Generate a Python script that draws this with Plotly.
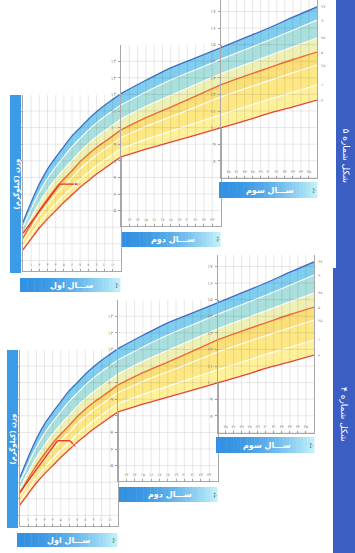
import plotly.graph_objects as go

W, H = 355, 553
FONT = "DejaVu Sans"

# ---------------- data (weight in kg by age in months) ----------------
months = [0, 1, 2, 3, 4, 5, 6, 7, 8, 9, 10, 11, 12, 15, 18, 21, 24, 27, 30, 33, 36]
p97 = [4.30, 5.50, 6.60, 7.50, 8.20, 8.85, 9.50, 10.00, 10.50, 10.95, 11.35, 11.70, 12.05, 12.85, 13.60, 14.20, 14.80, 15.40, 16.00, 16.65, 17.27]
p90 = [4.01, 5.10, 6.10, 6.94, 7.63, 8.25, 8.85, 9.36, 9.85, 10.28, 10.67, 11.02, 11.37, 12.15, 12.87, 13.49, 14.11, 14.69, 15.26, 15.86, 16.48]
p75 = [3.64, 4.59, 5.48, 6.24, 6.91, 7.49, 8.03, 8.57, 9.03, 9.45, 9.81, 10.16, 10.52, 11.28, 11.95, 12.59, 13.24, 13.79, 14.32, 14.87, 15.40]
p50 = [3.35, 4.20, 5.00, 5.70, 6.35, 6.90, 7.40, 7.95, 8.40, 8.80, 9.15, 9.50, 9.86, 10.60, 11.24, 11.90, 12.57, 13.10, 13.60, 14.10, 14.55]
p25 = [3.15, 3.95, 4.71, 5.36, 5.97, 6.51, 6.99, 7.52, 7.95, 8.35, 8.70, 9.05, 9.40, 10.07, 10.65, 11.24, 11.84, 12.34, 12.83, 13.30, 13.77]
p10 = [2.85, 3.58, 4.28, 4.87, 5.42, 5.93, 6.40, 6.88, 7.30, 7.70, 8.05, 8.40, 8.74, 9.29, 9.78, 10.28, 10.78, 11.24, 11.70, 12.13, 12.57]
p3 = [2.63, 3.30, 3.95, 4.50, 5.00, 5.50, 5.95, 6.40, 6.80, 7.20, 7.55, 7.90, 8.23, 8.70, 9.13, 9.55, 9.98, 10.40, 10.85, 11.25, 11.66]
percentile_names = ["۳", "۱۰", "۲۵", "۵۰", "۷۵", "۹۰", "۹۷"]

child5_months = [0, 4.5, 7]
child5_weight = [3.65, 6.6, 6.6]
child4_months = [0, 4.6, 6.1, 7.0]
child4_weight = [3.4, 6.5, 6.5, 6.05]

year_labels = ["ســـال اول", "ســـال دوم", "ســـال سوم"]
month_label = "ماه"
weight_title = "وزن (کیلوگرم)"
figure_titles = ["شکل شماره ۵", "شکل شماره ۴"]
year_month_ranges = [(0, 12), (12, 24), (24, 36)]

# ---------------- style / geometry ----------------
PXKG = 16.6
panel_x = [(23, 121), (121, 220.5), (220.5, 317)]
panel_y = [(95, 271), (45, 226), (0, 178)]
charts = [dict(dx=0, dy=0, cm=child5_months, cw=child5_weight, title=figure_titles[0]),
          dict(dx=-3, dy=255, cm=child4_months, cw=child4_weight, title=figure_titles[1])]

series = [p3, p10, p25, p50, p75, p90, p97]
fills = [None, "#fff199", "#fde883", "#fbdf79", "#eef0b4", "#a9dfdc", "#7fcdef"]
lcolors = ["#e8463a", "white", "white", "#ef6a35", "white", "white", "#3f6fc6"]
lwidths = [1.3, 1.1, 1.1, 1.4, 1.1, 1.1, 1.3]


def fa(n):
    return str(n).translate(str.maketrans("0123456789", "۰۱۲۳۴۵۶۷۸۹"))


def kg_of(ypx):
    return 1 + (277 - ypx) / PXKG


fig = go.Figure()
layout = {}
shapes = []
annotations = []


def ann(x, y, text, size, color, angle=0, bold=False):
    annotations.append(dict(x=x / W, y=1 - y / H, xref="paper", yref="paper",
                            text=("<b>%s</b>" % text) if bold else text, textangle=angle,
                            showarrow=False, xanchor="center", yanchor="middle",
                            font=dict(size=size, color=color, family=FONT)))


for c, ch in enumerate(charts):
    dx, dy = ch["dx"], ch["dy"]
    for p in range(3):
        idx = c * 3 + p + 1
        xa = "x" if idx == 1 else f"x{idx}"
        ya = "y" if idx == 1 else f"y{idx}"
        l, r = panel_x[p]
        t, b = panel_y[p]
        lo, hi = year_month_ranges[p]
        y0, y1 = kg_of(b), kg_of(t)
        xd = [(l + dx) / W, (r + dx) / W]
        yd = [max(0, 1 - (b + dy) / H), min(1, 1 - (t + dy) / H)]
        yt = list(range(int(y0 + 0.7), int(y1) + 1))
        xt = list(range(lo, hi + 1))
        layout["xaxis" if idx == 1 else f"xaxis{idx}"] = dict(
            domain=xd, range=[lo, hi], anchor=ya, showgrid=False, zeroline=False, automargin=False,
            showline=True, linecolor="#a8a8a8", linewidth=0.8, ticks="inside", ticklen=2,
            tickcolor="#aaa", tickvals=xt[1:], ticktext=[fa(v) for v in xt[1:]],
            ticklabelposition="inside",
            tickfont=dict(size=4, color="#8a8a8a", family=FONT), ticklabelstandoff=0)
        layout["yaxis" if idx == 1 else f"yaxis{idx}"] = dict(
            domain=yd, range=[y0, y1], anchor=xa, showgrid=False, zeroline=False, automargin=False,
            showline=True, mirror=True, linecolor="#a8a8a8", linewidth=0.8, ticks="outside",
            ticklen=2, tickcolor="#aaa", tickvals=yt, ticktext=[fa(v) for v in yt],
            tickfont=dict(size=5, color="#8a8a8a", family=FONT), ticklabelstandoff=1)
        sel = [i for i, m in enumerate(months) if lo <= m <= hi]
        xs = [months[i] for i in sel]
        for k, s in enumerate(series):
            fig.add_trace(go.Scatter(
                x=xs, y=[s[i] for i in sel], xaxis=xa, yaxis=ya, mode="lines",
                line=dict(color=lcolors[k], width=lwidths[k], shape="spline", smoothing=0.8),
                fill=None if fills[k] is None else "tonexty", fillcolor=fills[k],
                hoverinfo="skip", showlegend=False))
        # grid lines
        for m in xt[1:-1]:
            shapes.append(dict(type="line", xref=xa, yref=ya, x0=m, x1=m, y0=y0, y1=y1,
                               line=dict(color="rgba(80,80,80,0.22)", width=0.6), layer="above"))
        for v in yt:
            if y0 < v < y1:
                shapes.append(dict(type="line", xref=xa, yref=ya, x0=lo, x1=hi, y0=v, y1=v,
                                   line=dict(color="rgba(80,80,80,0.22)", width=0.6), layer="above"))
        if p == 2:
            for k, s in enumerate(series):
                annotations.append(dict(x=36, y=s[-1], xref=xa, yref=ya, text=percentile_names[k],
                                        showarrow=False, xanchor="left", yanchor="middle", xshift=2,
                                        font=dict(size=4, color="#8a8a8a", family=FONT)))
        if p == 0:
            n = len(ch["cm"])
            fig.add_trace(go.Scatter(
                x=ch["cm"], y=ch["cw"], xaxis=xa, yaxis=ya, mode="lines+markers",
                line=dict(color="#e8302a", width=1.3),
                marker=dict(symbol="arrow", angleref="previous", size=[0] * (n - 1) + [6],
                            color="#e8302a"),
                hoverinfo="skip", showlegend=False))

    # --- decorations (paper coordinates) ---
    def rect(x0, x1, y0p, y1p, color):
        shapes.append(dict(type="rect", xref="paper", yref="paper", x0=(x0 + dx) / W, x1=(x1 + dx) / W,
                           y0=1 - (y1p + dy) / H, y1=1 - (y0p + dy) / H, line=dict(width=0),
                           fillcolor=color, layer="above"))

    # weight title bar
    rect(10, 21, 95, 273, "#3c9be6")
    ann(15.5 + dx, 184 + dy, weight_title, 7, "white", angle=-90, bold=True)
    # year bars with gradient
    bars = [(20, 120, 278, 292), (122, 220, 232, 247), (219, 317, 182, 198)]
    for yi, (bx0, bx1, by0, by1) in enumerate(bars):
        nsl = 28
        for j in range(nsl):
            tt = (j / (nsl - 1)) ** 1.7
            col = "rgb(%d,%d,%d)" % (int(50 + (190 - 50) * tt), int(145 + (240 - 145) * tt),
                                     int(225 + (250 - 225) * tt))
            sx0 = bx0 + (bx1 - bx0) * j / nsl
            sx1 = bx0 + (bx1 - bx0) * (j + 1) / nsl + 0.4
            rect(sx0, sx1, by0, by1, col)
        ann((bx0 + bx1) / 2 + 2 + dx, (by0 + by1) / 2 + dy, year_labels[yi], 8, "white", bold=True)
        ann(bx1 - 2 + dx, (by0 + by1) / 2 + dy, month_label, 4, "#444", angle=90)

# right side bands
shapes.append(dict(type="rect", xref="paper", yref="paper", x0=336 / W, x1=1, y0=1 - 268 / H, y1=1,
                   line=dict(width=0), fillcolor="#3b5ec4", layer="above"))
shapes.append(dict(type="rect", xref="paper", yref="paper", x0=333 / W, x1=1, y0=0, y1=1 - 268 / H,
                   line=dict(width=0), fillcolor="#3b5ec4", layer="above"))
ann(345.5, 155, charts[0]["title"], 9, "white", angle=90)
ann(344, 414, charts[1]["title"], 9, "white", angle=90)

fig.update_layout(width=W, height=H, margin=dict(l=0, r=0, t=0, b=0, autoexpand=False),
                  paper_bgcolor="white", plot_bgcolor="rgba(0,0,0,0)",
                  shapes=shapes, annotations=annotations, showlegend=False, **layout)
fig.write_html("out.html", config={"displayModeBar": False},
               post_script="document.body.style.margin='0px';document.body.style.padding='0px';")
